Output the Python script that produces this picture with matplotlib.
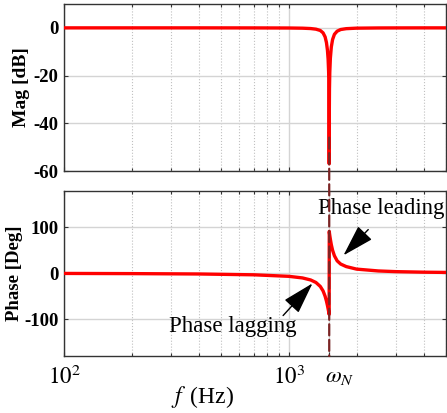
import matplotlib
matplotlib.use("Agg")
import matplotlib.pyplot as plt
from matplotlib.patches import ConnectionPatch
from matplotlib.ticker import LogLocator, NullFormatter
from matplotlib.transforms import ScaledTranslation

# ---- data ----
freq_hz = [100, 200, 400, 700, 1000, 1150, 1250, 1320, 1380, 1420, 1450, 1470,
           1485, 1495, 1503, 1508, 1511, 1512, 1513, 1516, 1521, 1530, 1545,
           1565, 1595, 1640, 1700, 1800, 2000, 2500, 3000, 4000, 5000]
mag_db = [0.0, 0.0, 0.0, -0.02, -0.06, -0.14, -0.29, -0.55, -1.1, -2.1, -3.8, -6.2,
          -9.4, -13.1, -18.5, -25.5, -37.6, -57.0, -37.6, -25.5, -18.6, -12.7, -8.0,
          -4.9, -2.7, -1.4, -0.7, -0.34, -0.13, -0.04, -0.02, 0.0, 0.0]
phase_deg = [-0.4, -0.8, -1.6, -3.4, -6.7, -10.2, -14.6, -20.1, -28.7, -38.5, -50.1, -60.6,
             -70.2, -77.3, -83.2, -87.0, -89.5, 0.0, 91.0, 87.0, 82.0, 74.0, 62.0,
             50.0, 38.0, 27.0, 20.0, 14.5, 9.0, 5.0, 3.5, 2.3, 1.8]
f_notch = 1512
mag_ticks = [0, -20, -40, -60]
phase_ticks = [100, 0, -100]
x_ticks = [100, 1000, f_notch]
x_ticklabels = [r'$10^2$', r'$10^3$', r'$\omega_N$']

plt.rcParams['font.family'] = ['Liberation Serif', 'DejaVu Serif']
plt.rcParams['mathtext.fontset'] = 'stix'

W, H = 447, 413
fig = plt.figure(figsize=(W / 100, H / 100), dpi=100)
ax1 = fig.add_axes([64 / W, 1 - 171 / H, 382 / W, 167 / H])
ax2 = fig.add_axes([64 / W, 1 - 356 / H, 382 / W, 165.5 / H])

red = '#ff0000'
for ax in (ax1, ax2):
    ax.set_xscale('log')
    ax.set_xlim(100, 5000)
    ax.xaxis.set_minor_locator(LogLocator(base=10, subs=range(2, 10)))
    ax.xaxis.set_minor_formatter(NullFormatter())
    ax.grid(True, which='major', color='#d4d4d4', lw=1.0, ls='-')
    ax.grid(True, which='minor', axis='x', color='#c0c0c0', lw=0.8, ls=':')
    ax.set_axisbelow(True)
    ax.tick_params(which='both', direction='in', top=True, right=True,
                   length=3, width=0.8, colors='#333333')
    ax.tick_params(which='minor', length=2)
    for s in ax.spines.values():
        s.set_color('#333333')
        s.set_linewidth(1.0)

ax1.plot(freq_hz, mag_db, color=red, lw=2.4, zorder=3)
ax1.set_ylim(-60, 10)
ax1.set_yticks(mag_ticks)
ax1.set_yticklabels([str(t) for t in mag_ticks], fontweight='bold', fontsize=13.5,
                    color='black')
ax1.tick_params(axis='y', pad=4)
ax1.set_xticks([100, 1000])
ax1.set_xticklabels([])
ax1.set_ylabel('Mag [dB]', fontweight='bold', fontsize=14)

ax2.plot(freq_hz, phase_deg, color=red, lw=2.4, zorder=3)
ax2.set_ylim(-180, 180)
ax2.set_yticks(phase_ticks)
ax2.set_yticklabels([str(t) for t in phase_ticks], fontweight='bold', fontsize=13.5,
                    color='black')
ax2.tick_params(axis='y', pad=4)
ax2.set_xticks(x_ticks)
ax2.set_xticklabels(x_ticklabels, fontsize=16.5, color='black')
ax2.tick_params(axis='x', which='major', pad=7)
wlabel = ax2.get_xticklabels()[2]
wlabel.set_ha('left')
wlabel.set_transform(wlabel.get_transform() + ScaledTranslation(-4 / 100, 0, fig.dpi_scale_trans))
ax2.set_ylabel('Phase [Deg]', fontweight='bold', fontsize=13.5)
ax2.set_xlabel(r'$f\,$ (Hz)', fontsize=17)

# label positions (axes-fraction coords), centred on the measured points
ax1.yaxis.label.set_va('center')
ax2.yaxis.label.set_va('center')
ax1.yaxis.set_label_coords(-(64 - 21) / 382, 0.5)
ax2.yaxis.set_label_coords(-(64 - 15) / 382, 0.5)
ax2.xaxis.set_label_coords((203 - 64) / 382, -(397 - 356) / 165.5)
ax2.xaxis.label.set_va('center')

# dashed marker line at the notch frequency
con = ConnectionPatch(xyA=(f_notch, -46), coordsA=ax1.transData,
                      xyB=(f_notch, -180), coordsB=ax2.transData,
                      color='#7a2424', lw=1.6, ls=(0, (5, 2)), zorder=10)
fig.add_artist(con)

arrow = dict(arrowstyle='-|>,head_length=1.0,head_width=0.3', color='black',
             lw=1.0, mutation_scale=20, shrinkA=0, shrinkB=0)
ax2.annotate('', xy=(1750, 39), xytext=(2255, 95), arrowprops=arrow, zorder=6)
ax2.text(2575, 140, 'Phase leading', ha='center', va='center', fontsize=16.5, zorder=6)
ax2.annotate('', xy=(1274, -22), xytext=(943, -92), arrowprops=arrow, zorder=6)
ax2.text(562, -115, 'Phase lagging', ha='center', va='center', fontsize=16.5, zorder=6)

fig.savefig('out.png', dpi=100)
